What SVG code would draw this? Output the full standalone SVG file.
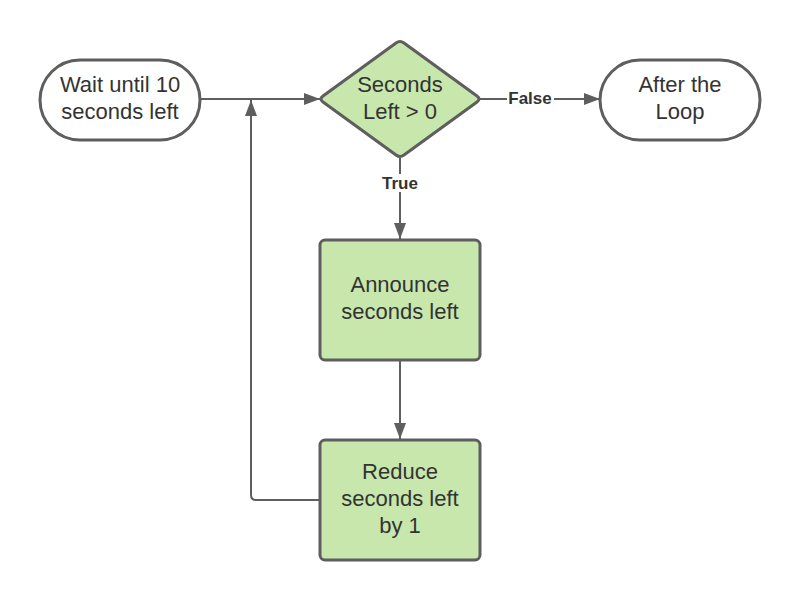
<svg xmlns="http://www.w3.org/2000/svg" width="800" height="600" viewBox="0 0 800 600">
<style>
.sh{stroke:#5e5e5e;stroke-width:3}
.term{fill:#ffffff}
.proc{fill:#c7e7ad}
.t{font-family:"Liberation Sans",Arial,sans-serif;font-size:22px;fill:#333333;text-anchor:middle}
.lbl{font-family:"Liberation Sans",Arial,sans-serif;font-size:17px;font-weight:bold;fill:#333333;text-anchor:middle}
.c{fill:none;stroke:#5e5e5e;stroke-width:2}
</style>
<defs>
<marker id="ah" viewBox="0 0 16 12" refX="16" refY="6" markerWidth="16" markerHeight="12" markerUnits="userSpaceOnUse" orient="auto">
<path d="M0,0 L16,6 L0,12 Z" fill="#5e5e5e"/>
</marker>
</defs>
<rect width="800" height="600" fill="#ffffff"/>
<g id="connectors">
<path class="c" d="M200,99 L320,99" marker-end="url(#ah)"/>
<path class="c" d="M320,500 L256,500 Q251,500 251,495 L251,100" marker-end="url(#ah)"/>
<path class="c" d="M480,99 L600,99" marker-end="url(#ah)"/>
<path class="c" d="M400,158 L400,239" marker-end="url(#ah)"/>
<path class="c" d="M400,360 L400,439" marker-end="url(#ah)"/>
<rect x="507" y="89" width="47" height="18" fill="#ffffff"/>
<text class="lbl" x="530" y="104">False</text>
<rect x="380" y="174" width="40" height="18" fill="#ffffff"/>
<text class="lbl" x="400" y="189">True</text>
</g>
<g id="start">
<rect class="sh term" x="40" y="60" width="160" height="80" rx="40" ry="40"/>
<text class="t" x="120" y="92">Wait until 10</text>
<text class="t" x="120" y="119">seconds left</text>
</g>
<g id="decision">
<path class="sh proc" d="M396,43 Q400,40 404,43 L477,96 Q481,99 477,102 L404,155 Q400,158 396,155 L323,102 Q319,99 323,96 Z"/>
<text class="t" x="400" y="92">Seconds</text>
<text class="t" x="400" y="119">Left &gt; 0</text>
</g>
<g id="end">
<rect class="sh term" x="600" y="60" width="160" height="80" rx="40" ry="40"/>
<text class="t" x="680" y="92">After the</text>
<text class="t" x="680" y="119">Loop</text>
</g>
<g id="announce">
<rect class="sh proc" x="320" y="240" width="160" height="120" rx="5" ry="5"/>
<text class="t" x="400" y="292">Announce</text>
<text class="t" x="400" y="319">seconds left</text>
</g>
<g id="reduce">
<rect class="sh proc" x="320" y="440" width="160" height="120" rx="5" ry="5"/>
<text class="t" x="400" y="479">Reduce</text>
<text class="t" x="400" y="506">seconds left</text>
<text class="t" x="400" y="533">by 1</text>
</g>
</svg>
